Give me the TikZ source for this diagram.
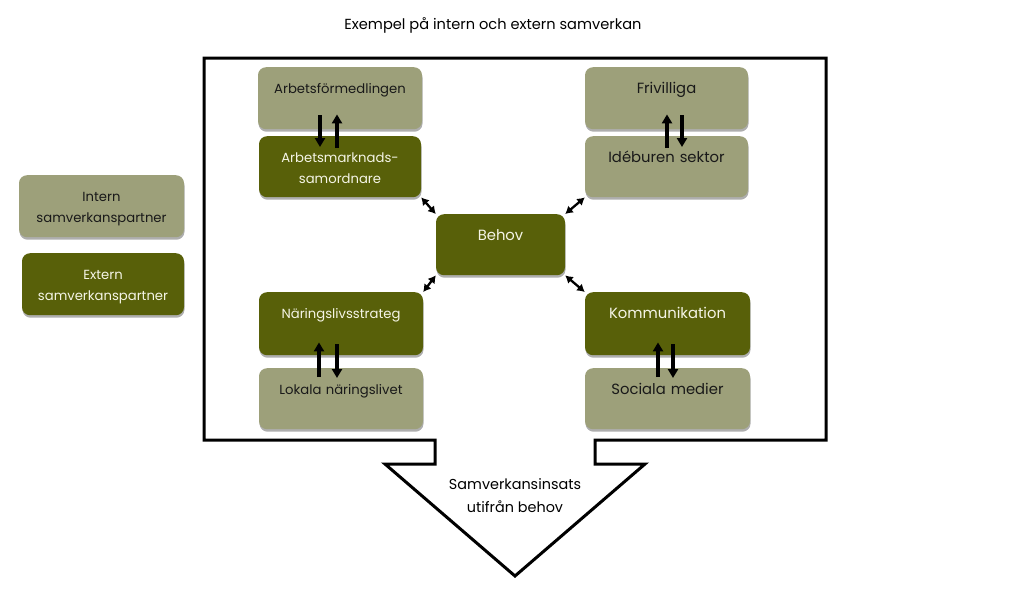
\documentclass[tikz,border=0pt]{standalone}
\usepackage{fontspec}
\setmainfont{Poppins}
\usetikzlibrary{arrows.meta,shadows}
\definecolor{lightol}{RGB}{157,160,122}
\definecolor{darkol}{RGB}{88,96,9}
\definecolor{boxtxt}{RGB}{245,245,230}
\begin{document}
\begin{tikzpicture}[x=1pt,y=-1pt,
  box/.style={anchor=north, rounded corners=8pt, inner sep=0pt, text height=26pt,
    align=center, font=\fontsize{13.2}{21}\selectfont,
    drop shadow={shadow xshift=0.5pt,shadow yshift=-2.5pt,opacity=0.45,fill=black!70}},
  big/.style={font=\fontsize{14.8}{21}\selectfont},
  lbox/.style={box, fill=lightol, text=black!90},
  dbox/.style={box, fill=darkol, text=boxtxt},
  varrow/.style={line width=3.5pt, -{Triangle[width=10pt,length=9pt]}},
  darrow/.style={line width=2.3pt, {Latex[length=7.5pt,width=9pt]}-{Latex[length=7.5pt,width=9pt]}},
  outline/.style={line width=3pt, line join=miter},
  plain/.style={font=\fontsize{14.6}{23}\selectfont, align=center}]
\useasboundingbox (0,0) rectangle (1024,603);

\node[plain] (title) at (493,25) {Exempel på intern och extern samverkan};

\draw[outline] (204,58) -- (826,58) -- (826,440) -- (595,440) -- (595,464) -- (645,464)
  -- (515,576) -- (385,464) -- (435,464) -- (435,440) -- (204,440) -- cycle;
\node[plain, font=\fontsize{14.4}{23}\selectfont] (insats) at (515,496) {Samverkansinsats\\utifrån behov};

% legend
\node[lbox, text width=165pt, text depth=36pt] (intern) at (101.5,175) {Intern\\samverkanspartner};
\node[dbox, text width=162pt, text depth=36pt] (extern) at (103,253) {Extern\\samverkanspartner};

% boxes
\node[lbox, text width=164pt, text depth=36pt] (af) at (340,67) {Arbetsförmedlingen};
\node[dbox, text width=162pt, text depth=35pt] (as) at (340,136) {Arbetsmarknads-\\samordnare};
\node[lbox, big, text width=163pt, text depth=36pt] (fr) at (666.5,67) {Frivilliga};
\node[lbox, big, text width=163pt, text depth=35pt] (id) at (666.5,136) {Idéburen sektor};
\node[dbox, big, text width=129pt, text depth=35pt] (beh) at (500.5,214) {Behov};
\node[dbox, text width=164pt, text depth=37pt] (ns) at (341,292) {Näringslivsstrateg};
\node[lbox, text width=164pt, text depth=35pt] (ln) at (341,368) {Lokala näringslivet};
\node[dbox, big, text width=165pt, text depth=37pt] (ko) at (667.5,292) {Kommunikation};
\node[lbox, big, text width=165pt, text depth=35pt] (so) at (667.5,368) {Sociala medier};

% vertical arrows
\draw[varrow] ([xshift=-20pt,yshift=14pt]af.south) -- ([xshift=-20pt,yshift=-11pt]as.north);
\draw[varrow] ([xshift=-3pt,yshift=-12pt]as.north) -- ([xshift=-3pt,yshift=15pt]af.south);
\draw[varrow] ([xshift=0.5pt,yshift=-12pt]id.north) -- ([xshift=0.5pt,yshift=15pt]fr.south);
\draw[varrow] ([xshift=15.5pt,yshift=14pt]fr.south) -- ([xshift=15.5pt,yshift=-11pt]id.north);
\draw[varrow] ([xshift=-22pt,yshift=-9pt]ln.north) -- ([xshift=-22pt,yshift=13pt]ns.south);
\draw[varrow] ([xshift=-4pt,yshift=11pt]ns.south) -- ([xshift=-4pt,yshift=-10pt]ln.north);
\draw[varrow] ([xshift=-9.5pt,yshift=-9pt]so.north) -- ([xshift=-9.5pt,yshift=13pt]ko.south);
\draw[varrow] ([xshift=5.5pt,yshift=11pt]ko.south) -- ([xshift=5.5pt,yshift=-10pt]so.north);

% diagonal double arrows
\draw[darrow] (as.south east) -- (beh.north west);
\draw[darrow] (id.south west) -- (beh.north east);
\draw[darrow] (ns.north east) -- (beh.south west);
\draw[darrow] (ko.north west) -- (beh.south east);
\end{tikzpicture}
\end{document}
